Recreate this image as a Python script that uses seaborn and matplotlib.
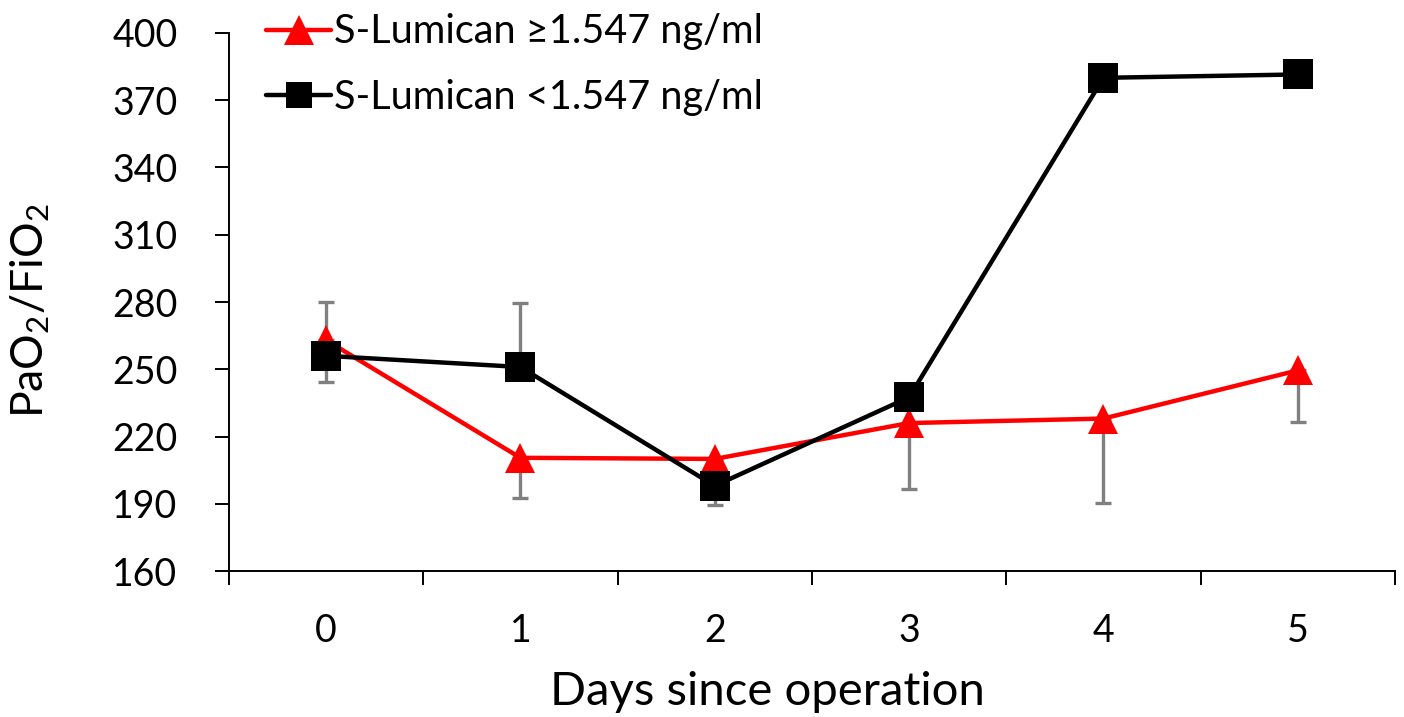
import matplotlib
matplotlib.use("Agg")
import matplotlib.pyplot as plt
import seaborn as sns
import numpy as np
import pandas as pd

# values
days = [0, 1, 2, 3, 4, 5]
high_label = "S-Lumican \u22651.547 ng/ml"
low_label = "S-Lumican <1.547 ng/ml"
high_vals = [263, 210.5, 210, 226, 228, 249.5]
low_vals = [256, 251, 198, 237.5, 380, 381.5]
# one-sided error bars (lower, upper)
high_err_lo = [0, 18, 0, 29.5, 37.5, 23]
high_err_hi = [17, 0, 0, 0, 0, 0]
low_err_lo = [11.5, 0, 8.5, 0, 0, 0]
low_err_hi = [0, 28.5, 0, 0, 0, 0]
y_ticks = [160, 190, 220, 250, 280, 310, 340, 370, 400]

sns.set_style("ticks")
plt.rcParams["font.family"] = ["Lato", "DejaVu Sans"]
plt.rcParams["mathtext.default"] = "regular"
plt.rcParams["text.color"] = "black"
plt.rcParams["axes.labelcolor"] = "black"
plt.rcParams["xtick.color"] = "black"
plt.rcParams["ytick.color"] = "black"

df = pd.DataFrame({
    "day": days * 2,
    "value": high_vals + low_vals,
    "group": [high_label] * len(days) + [low_label] * len(days),
})

fig = plt.figure(figsize=(14.04, 7.17), dpi=100)
ax = fig.add_axes([0.163, 0.2036, 0.8306, 0.7504])

ax.errorbar(days, high_vals, yerr=[high_err_lo, high_err_hi], fmt="none",
            ecolor="#808080", elinewidth=2.4, capsize=5.5, capthick=2.4, zorder=1)
ax.errorbar(days, low_vals, yerr=[low_err_lo, low_err_hi], fmt="none",
            ecolor="#808080", elinewidth=2.4, capsize=5.5, capthick=2.4, zorder=1)

sns.lineplot(data=df, x="day", y="value", hue="group", style="group",
             palette={high_label: "#ff0000", low_label: "#000000"},
             markers={high_label: "^", low_label: "s"}, dashes=False,
             linewidth=3.2, markersize=21, markeredgewidth=0,
             ax=ax, zorder=3, legend=False)

ax.set_xlim(-0.5, 5.5)
ax.set_ylim(160, 400)
ax.set_yticks(y_ticks)
ax.set_xticks(days)
ax.set_xticks(np.arange(-0.5, 6, 1), minor=True)
ax.tick_params(axis="x", which="major", length=0, labelsize=27, pad=30)
ax.tick_params(axis="x", which="minor", length=10, width=1.4, color="black")
ax.tick_params(axis="y", length=10, width=1.4, labelsize=27, color="black", pad=27)
for side in ["top", "right"]:
    ax.spines[side].set_visible(False)
for side in ["left", "bottom"]:
    ax.spines[side].set_linewidth(1.4)
    ax.spines[side].set_color("black")

ax.set_xlabel("Days since operation", fontsize=34)
ax.xaxis.set_label_coords(0.462, -0.185)
ax.set_ylabel("PaO$_2$/FiO$_2$", fontsize=32)
ax.yaxis.set_label_coords(-0.152, 0.483)

handles = [
    plt.Line2D([], [], color="#ff0000", marker="^", markersize=21, linewidth=3.2, markeredgewidth=0),
    plt.Line2D([], [], color="#000000", marker="s", markersize=19, linewidth=3.2, markeredgewidth=0),
]
fig.legend(handles, [high_label, low_label], loc="upper left",
           bbox_to_anchor=(0.164, 1.031), frameon=False, fontsize=28.5,
           handlelength=1.65, handletextpad=0.08, labelspacing=0.72)

fig.savefig("out.png", dpi=100)
